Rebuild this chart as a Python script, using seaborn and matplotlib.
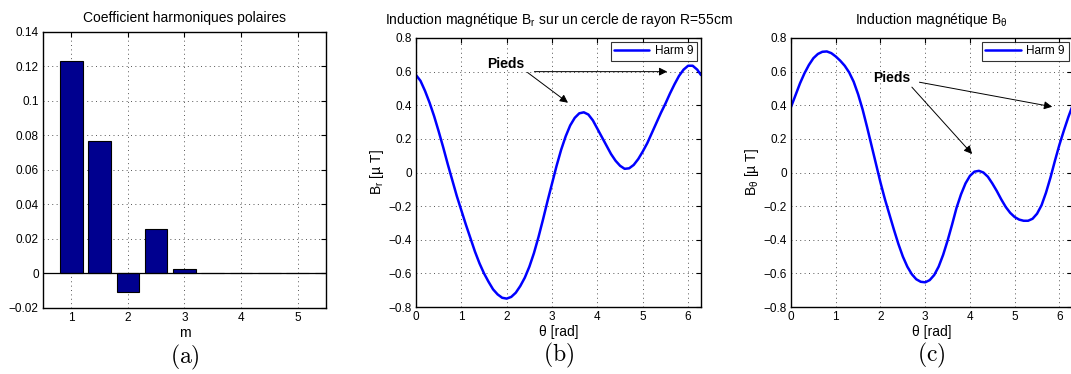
import matplotlib
matplotlib.use("Agg")
import matplotlib.pyplot as plt
import pandas as pd
import seaborn as sns
from matplotlib.ticker import FuncFormatter

# (a) polar harmonic coefficients
m_pos = [1, 1.5, 2, 2.5, 3, 3.5, 4, 4.5, 5, 5.5]
coef = [0.123, 0.077, -0.0105, 0.026, 0.0025, 0.0003, 0.0001, 0.0001, 0.0003, 0.0003]

# angle samples (rad) used for both field curves
theta = [0.0, 0.1, 0.2, 0.3, 0.4, 0.5, 0.6, 0.7, 0.8, 0.9,
         1.0, 1.1, 1.2, 1.3, 1.4, 1.5, 1.6, 1.7, 1.8, 1.9,
         2.0, 2.1, 2.2, 2.3, 2.4, 2.5, 2.6, 2.7, 2.8, 2.9,
         3.0, 3.1, 3.2, 3.3, 3.4, 3.5, 3.6, 3.7, 3.8, 3.9,
         4.0, 4.1, 4.2, 4.3, 4.4, 4.5, 4.6, 4.7, 4.8, 4.9,
         5.0, 5.1, 5.2, 5.3, 5.4, 5.5, 5.6, 5.7, 5.8, 5.9,
         6.0, 6.1, 6.2, 6.283]

# (b) radial induction B_r [uT]
b_r = [0.58, 0.545, 0.485, 0.415, 0.335, 0.245, 0.15, 0.05, -0.045, -0.14,
       -0.225, -0.31, -0.39, -0.47, -0.54, -0.60, -0.65, -0.695, -0.725, -0.745,
       -0.75, -0.74, -0.715, -0.675, -0.625, -0.56, -0.48, -0.385, -0.28, -0.17,
       -0.065, 0.04, 0.135, 0.215, 0.28, 0.325, 0.352, 0.358, 0.345, 0.31,
       0.26, 0.21, 0.16, 0.11, 0.07, 0.04, 0.022, 0.025, 0.045, 0.08,
       0.125, 0.175, 0.235, 0.295, 0.355, 0.41, 0.47, 0.525, 0.575, 0.612,
       0.635, 0.635, 0.612, 0.58]

# (c) tangential induction B_theta [uT]
b_t = [0.39, 0.46, 0.53, 0.59, 0.64, 0.68, 0.705, 0.718, 0.72, 0.71,
       0.69, 0.665, 0.635, 0.595, 0.54, 0.465, 0.375, 0.27, 0.16, 0.05,
       -0.06, -0.16, -0.25, -0.34, -0.425, -0.5, -0.56, -0.605, -0.635, -0.65,
       -0.653, -0.64, -0.61, -0.56, -0.49, -0.405, -0.31, -0.21, -0.13, -0.065,
       -0.02, 0.005, 0.01, 0.0, -0.025, -0.065, -0.11, -0.16, -0.205, -0.24,
       -0.265, -0.28, -0.287, -0.287, -0.275, -0.245, -0.195, -0.12, -0.03, 0.07,
       0.165, 0.25, 0.33, 0.39]

sns.set_style("white")
plt.rcParams["font.family"] = ["Liberation Sans", "DejaVu Sans"]
plt.rcParams["mathtext.fontset"] = "cm"
plt.rcParams["mathtext.default"] = "regular"
# seaborn greys the text, matlab keeps it black
for key in ["text.color", "axes.labelcolor", "xtick.color", "ytick.color"]:
    plt.rcParams[key] = "black"

TICK_FS = 8.5
LABEL_FS = 10

# matlab-like labels: 0.1 not 0.10, real minus sign
fmt = FuncFormatter(lambda v, p: f"{v:g}".replace("-", "\u2212"))


def matlab_axes(ax):
    ax.grid(True, ls=(0, (1, 3.5)), color="#555555", lw=0.7)
    ax.tick_params(direction="in", top=True, right=True, length=3.5,
                   width=0.8, labelsize=TICK_FS, color="k", labelcolor="k", pad=3)
    for s in ax.spines.values():
        s.set_color("k")
        s.set_linewidth(1.0)
    ax.xaxis.set_major_formatter(fmt)
    ax.yaxis.set_major_formatter(fmt)


fig = plt.figure(figsize=(10.71, 3.74), dpi=100)
ax_a = fig.add_axes([0.0401, 0.1765, 0.2642, 0.738])
ax_b = fig.add_axes([0.3884, 0.1791, 0.2661, 0.7193])
ax_c = fig.add_axes([0.7386, 0.1791, 0.2624, 0.7193])

# (a) bars
df_a = pd.DataFrame({"m": m_pos, "coef": coef})
sns.barplot(data=df_a, x="m", y="coef", native_scale=True, width=0.8,
            color="#00008f", saturation=1, edgecolor="k", linewidth=0.8, ax=ax_a)
ax_a.axhline(0, color="k", lw=0.9)
ax_a.set_xlim(0.5, 5.5)
ax_a.set_ylim(-0.02, 0.14)
ax_a.set_xticks([1, 2, 3, 4, 5])
ax_a.set_yticks([-0.02, 0, 0.02, 0.04, 0.06, 0.08, 0.1, 0.12, 0.14])
ax_a.set_xlabel("m", fontsize=LABEL_FS, labelpad=1)
ax_a.set_ylabel("")
ax_a.set_title("Coefficient harmoniques polaires", fontsize=LABEL_FS, pad=7)
matlab_axes(ax_a)
ax_a.set_axisbelow(True)

# (b) and (c) field curves
df_b = pd.DataFrame({"theta": theta, "B": b_r})
df_c = pd.DataFrame({"theta": theta, "B": b_t})
for ax, df in [(ax_b, df_b), (ax_c, df_c)]:
    sns.lineplot(data=df, x="theta", y="B", color="#0000ff", lw=1.8,
                 label="Harm 9", ax=ax)
    ax.set_xlim(0, 6.283)
    ax.set_ylim(-0.8, 0.8)
    ax.set_xticks([0, 1, 2, 3, 4, 5, 6])
    ax.set_yticks([-0.8, -0.6, -0.4, -0.2, 0, 0.2, 0.4, 0.6, 0.8])
    ax.set_xlabel("θ [rad]", fontsize=LABEL_FS, labelpad=1)
    matlab_axes(ax)
    leg = ax.legend(loc="upper right", fontsize=TICK_FS, handlelength=3.0,
                    frameon=True, fancybox=False, borderpad=0.3,
                    borderaxespad=0.3, handletextpad=0.5)
    leg.get_frame().set_edgecolor("k")
    leg.get_frame().set_linewidth(0.8)

ax_b.set_ylabel("B$_r$ [µ T]", fontsize=LABEL_FS, labelpad=2)
ax_b.set_title("Induction magnétique B$_r$ sur un cercle de rayon R=55cm",
               fontsize=LABEL_FS, pad=10)
ax_c.set_ylabel("B$_{θ}$ [µ T]", fontsize=LABEL_FS, labelpad=2)
ax_c.set_title("Induction magnétique B$_{θ}$", fontsize=LABEL_FS, pad=10)

arrow = dict(arrowstyle="-|>", color="k", lw=0.7, mutation_scale=12)
ax_b.text(1.99, 0.645, "Pieds", fontsize=10, fontweight="bold",
          ha="center", va="center")
ax_b.annotate("", xy=(5.6, 0.6), xytext=(2.55, 0.6), arrowprops=arrow)
ax_b.annotate("", xy=(3.4, 0.405), xytext=(2.41, 0.605), arrowprops=arrow)

ax_c.text(2.25, 0.565, "Pieds", fontsize=10, fontweight="bold",
          ha="center", va="center")
ax_c.annotate("", xy=(5.9, 0.388), xytext=(2.81, 0.54), arrowprops=arrow)
ax_c.annotate("", xy=(4.09, 0.098), xytext=(2.66, 0.52), arrowprops=arrow)

# panel letters
for ax, lab in [(ax_a, "(a)"), (ax_b, "(b)"), (ax_c, "(c)")]:
    ax.text(0.5, -0.125, "$\\mathrm{" + lab + "}$", transform=ax.transAxes,
            fontsize=17, ha="center", va="top")

fig.savefig("out.png", dpi=100)
